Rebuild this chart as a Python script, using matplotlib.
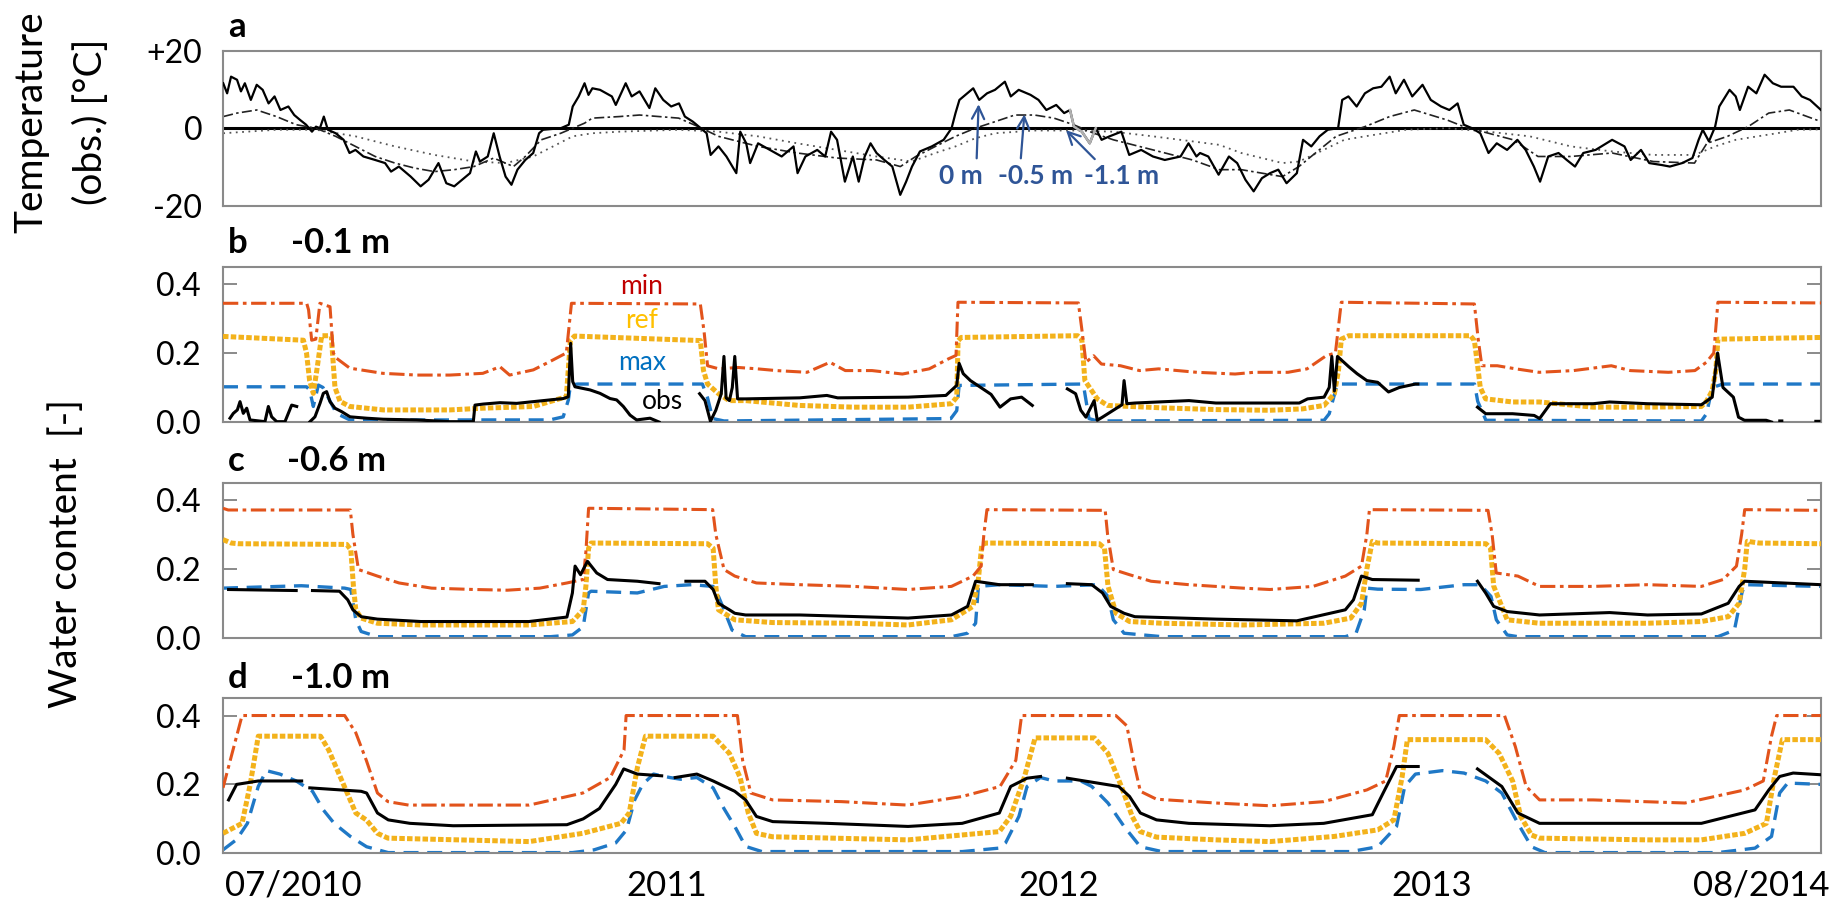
import numpy as np
import matplotlib
matplotlib.use("Agg")
import matplotlib.pyplot as plt

plt.rcParams['font.family'] = ['Lato', 'DejaVu Sans']
nan = np.nan

# ---------------- x axis (days along the record) ----------------
x_max = 1550
tick_days = [68.4, 430.8, 811, 1172, 1492]
tick_labels = ['07/2010', '2011', '2012', '2013', '08/2014']

# ---------------- panel a: temperature ----------------
a0_day = [0.2, 4, 7.8, 13.6, 17.4, 21.2, 27, 32.7, 38.5, 44.2, 50, 55.7, 63.4, 69.1, 74.9, 80.6, 86.3, 90.2, 94, 97.8,
          101.7, 109.3, 117, 122.7, 128.5, 136.2, 147.6, 157.2, 163, 170.6, 182.1, 191.7, 199.4, 209, 216.6, 224.3, 233.8,
          239.6, 245.3, 249.2, 256.8, 262.6, 268.3, 274.1, 279.8, 285.6, 293.2, 300.9, 306.6, 310.5, 327.7, 335.4, 339.2,
          345, 350.7, 354.5, 358.3, 365.7, 377.2, 381, 390.6, 396.4, 404, 413.6, 419.3, 427, 434.7, 442.3, 448, 455.7,
          463.4, 469.1, 473, 480.6, 488.3, 497.9, 501.7, 507.5, 511.3, 519, 530.4, 541.9, 553.4, 557.3, 564.9, 576.4,
          584.1, 589.8, 595.6, 603.2, 610.9, 616.6, 622.4, 628.1, 633.9, 641.5, 649.2, 656.9, 662.6, 668.3, 676, 687.5,
          699, 706.7, 710.5, 714.3, 720.1, 727.7, 733.5, 741.1, 748.8, 758.4, 764.1, 771.8, 783.3, 791, 798.6, 808.2,
          815.9, 821.6, 825.4, 833.1, 840.7, 846.5, 852.2, 859.9, 871.4, 879, 890.6, 902, 913.5, 928.8, 936.5, 944.2,
          947.7, 955.7, 965.7, 975.7, 983.7, 991.7, 999.7, 1007.7, 1015.6, 1023.6, 1031.6, 1041.6, 1047.6, 1055.6,
          1063.6, 1071.6, 1081.6, 1085.6, 1091.6, 1099.6, 1107.6, 1115.6, 1123.6, 1131.6, 1137.5, 1145.5, 1153.5,
          1163.5, 1171.5, 1181.5, 1189.5, 1197.5, 1203.5, 1211.5, 1219.5, 1227.5, 1235.5, 1245.5, 1255.5, 1263.5,
          1271.5, 1277.5, 1285.4, 1295.4, 1303.4, 1311.4, 1319.4, 1331.4, 1347.4, 1359.4, 1365.4, 1375.4, 1383.4,
          1395.4, 1403.4, 1415.4, 1425.3, 1431.3, 1435.3, 1441.3, 1447.3, 1451.3, 1461.3, 1467.3, 1471.3, 1479.3,
          1487.3, 1495.3, 1503.3, 1511.3, 1523.3, 1531.3, 1539.3, 1550]
a0_temp = [11.6, 9.0, 13.3, 12.5, 9.5, 11.6, 7.3, 11.2, 9.9, 6.4, 8.2, 4.7, 5.6, 3.4, 2.1, 0.9, -0.9, 0.4, 0, 3.0,
           -0.4, -1.3, -3.0, -6.4, -5.6, -7.3, -8.2, -9.0, -11.2, -9.9, -12.5, -15.0, -13.3, -9.0, -14.2, -15.0, -12.9,
           -11.6, -6.0, -8.6, -7.3, -1.3, -7.3, -12.5, -14.6, -10.7, -8.2, -6.4, -1.3, -0.4, 0, 0.9, 5.6,
           8.2, 11.6, 8.6, 10.3, 9.9, 8.2, 6.0, 11.6, 8.2, 9.5, 5.2, 10.3, 7.3, 5.6, 6.4, 3.0, 1.7,
           0, -1.3, -6.9, -4.7, -7.3, -11.6, -0.9, -3.9, -9.0, -3.9, -5.6, -7.3, -4.7, -11.6, -7.3, -5.6,
           -7.3, -0.9, -3.0, -13.8, -7.3, -13.8, -7.3, -3.9, -6.4, -8.2, -9.9, -17.2, -13.8, -9.9, -6.0, -4.7,
           -3.0, 0, 3.9, 7.3, 8.6, 10.3, 7.3, 9.0, 9.9, 12.0, 8.2, 9.9, 8.6, 7.3, 4.7, 6.0,
           3.9, 4.7, 0.4, -0.9, -3.9, 0, -3.0, -2.1, -0.9, -6.9, -5.6, -7.3, -8.2, -7.3, -3.9, -7.3,
           -6.4, -7.3, -12.0, -7.3, -9.0, -13.3, -16.3, -12.9, -11.6, -10.7, -14.2, -11.6, -3.0, -4.7,
           -2.1, -0.4, 0, 7.3, 8.2, 5.6, 9.0, 10.3, 10.7, 13.3, 9.0, 12.5, 8.2,
           11.2, 7.3, 5.6, 4.7, 6.4, 0.9, 0, -1.3, -6.4, -3.9, -5.6, -3.0, -5.6,
           -9.9, -13.8, -7.3, -6.4, -8.2, -9.9, -6.4, -5.6, -3.0, -4.7, -8.2, -5.6, -9.0,
           -9.5, -9.9, -9.0, -7.7, -3.0, -0.4, -3.4, 0.4, 5.6, 9.9, 8.2, 4.7, 10.7,
           9.0, 13.8, 11.6, 10.7, 10.7, 8.2, 7.3, 4.7]

a05_day = [0.2, 13.6, 32.7, 51.9, 71, 90.2, 109.3, 128.5, 147.6, 166.8, 186, 205.1, 224.3, 243.4, 262.6, 281.7, 293.2,
           308.6, 327.7, 350.7, 358.3, 384.4, 404, 442, 461, 480.6, 519, 557, 595.6, 634, 657, 672, 691, 710.5, 729.6,
           749, 768, 787, 806, 825, 844.6, 863.7, 902, 940.4, 966.4, 987.7, 1027.6, 1043.6, 1059.6, 1079.6, 1107.6,
           1131.6, 1155.5, 1171.5, 1187.5, 1203.5, 1227.5, 1251.5, 1275.5, 1307.4, 1347.4, 1387.4, 1427.3, 1439.3,
           1459.3, 1479.3, 1499.3, 1519.3, 1550]
a05_temp = [3.0, 3.9, 4.7, 3.0, 0.9, 0, -2.1, -4.7, -7.3, -9.0, -10.3, -11.2, -10.7, -9.9, -7.7, -9.9, -7.3,
            -3.0, -1.3, 1.3, 2.6, 3.0, 3.4, 2.6, 0.4, -2.1, -4.7, -6.4, -7.7, -8.2, -9.9, -7.3, -4.7, -2.1, 0,
            1.7, 3.4, 3.4, 2.6, 0.9, -1.3, -3.0, -5.6, -8.2, -10.7, -10.7, -12.5, -9.9, -6.4, -2.1, 0.4,
            3.0, 4.7, 3.4, 2.1, 0.4, -1.3, -3.0, -7.3, -7.3, -6.4, -8.6, -9.0, -3.9,
            -2.1, 0.4, 3.9, 4.7, 1.7]

a11_day = [0.2, 51.9, 90.2, 128.5, 166.8, 205.1, 243.4, 274.1, 300.9, 320.1, 339.2, 358.3, 384.4, 442, 480.6, 519,
           557, 595.6, 634, 668, 691, 710.5, 729.6, 749, 787, 825, 863.7, 902, 940.4, 966.4, 987.7, 1027.6, 1043.6,
           1067.6, 1087.6, 1107.6, 1147.5, 1187.5, 1227.5, 1267.5, 1307.4, 1347.4, 1387.4, 1427.3, 1447.3, 1467.3,
           1507.3, 1527.3, 1550]
a11_temp = [-1.3, -0.4, -0.4, -2.1, -4.7, -6.9, -8.6, -9.0, -7.3, -4.7, -2.1, -1.3, -0.9, -0.4, -0.9, -2.1,
            -3.9, -5.6, -7.3, -8.6, -6.4, -4.7, -2.6, -1.3, -0.6, -0.6, -0.9, -2.1, -3.4, -4.3, -6.4, -9.0, -8.6,
            -5.6, -3.0, -2.1, -0.4, 0, -0.9, -2.1, -4.7, -6.0, -6.9, -6.9, -4.7, -3.0,
            -1.3, -0.4, -0.3]

# ---------------- panel b: -0.1 m ----------------
b_min_day = [0, 81.2, 83, 86, 90, 94, 103.8, 107, 110, 123, 155, 188, 220, 252, 268.7, 278, 301, 317, 333, 338,
             463, 466.7, 470, 481, 499.8, 518.3, 536.8, 566.5, 588.7, 603.6, 629.5, 659,
             685, 703.7, 711, 712.9, 829.7, 833.4, 837, 844.5, 852, 870.5, 889, 907.5, 944.6, 981.7, 1000, 1033,
             1051.5, 1070, 1079, 1084.7, 1213.8, 1217.5, 1221, 1236, 1254, 1276.5, 1310, 1346.6, 1365, 1402, 1427.7,
             1438.8, 1446, 1450, 1550]
b_min = [0.344, 0.344, 0.325, 0.237, 0.24, 0.344, 0.334, 0.2, 0.185, 0.156, 0.141, 0.136, 0.136, 0.141, 0.16, 0.136,
         0.151, 0.175, 0.2, 0.344,
         0.342, 0.26, 0.163, 0.154, 0.158, 0.154, 0.149, 0.144, 0.173, 0.149, 0.149,
         0.139, 0.154, 0.183, 0.193, 0.347, 0.345, 0.26, 0.173, 0.192, 0.168, 0.163, 0.149, 0.154, 0.144, 0.139,
         0.144, 0.144, 0.154, 0.192, 0.2, 0.347, 0.342, 0.24, 0.163, 0.163, 0.154, 0.144, 0.149, 0.163, 0.149,
         0.144, 0.149, 0.173, 0.2, 0.347, 0.345]

b_ref_day = [0, 78, 81, 84, 87.6, 91, 95.7, 105, 108.6, 113.5, 123, 155.5, 220, 252, 301, 317, 333, 337, 341,
             463, 466, 470,
             480.6, 491, 507, 559, 612, 664.5, 706.5, 711.7, 713, 716, 829, 833, 836, 848, 858, 911, 963, 1015,
             1047, 1068, 1078, 1082, 1084.7, 1092, 1210, 1213.8, 1217.5, 1219.5, 1224.7, 1251, 1277, 1329, 1381.7,
             1434, 1439, 1444.5, 1448, 1450, 1550]
b_ref = [0.248, 0.237, 0.2, 0.12, 0.083, 0.15, 0.25, 0.25, 0.1, 0.06, 0.045, 0.035, 0.035, 0.04, 0.045, 0.059, 0.073,
         0.237, 0.249, 0.236, 0.15, 0.11,
         0.082, 0.062, 0.062, 0.048, 0.043, 0.043, 0.053, 0.072, 0.235, 0.245,
         0.25, 0.24, 0.12, 0.067, 0.048, 0.041, 0.036, 0.034, 0.038, 0.048, 0.082, 0.15, 0.24, 0.25, 0.25, 0.236,
         0.15, 0.1, 0.067, 0.058, 0.058, 0.043, 0.043, 0.045, 0.06, 0.091, 0.15, 0.24, 0.245]

b_max_day = [0, 81, 84, 87.6, 92.5, 97, 110, 123, 317, 330, 335, 337, 344, 465, 470, 475, 486, 706, 711.7, 714,
             833, 835, 840, 848, 1068, 1073, 1080.8, 1214, 1217, 1225, 1434, 1439, 1444.5, 1455, 1550]
b_max = [0.102, 0.102, 0.093, 0.045, 0.107, 0.1, 0.025, 0.006, 0.006, 0.015, 0.064, 0.107, 0.11, 0.11, 0.07, 0.01,
         0.003, 0.01, 0.033, 0.106, 0.11, 0.1, 0.01, 0.003, 0.005, 0.024, 0.11, 0.11, 0.06, 0.005, 0.003, 0.024, 0.1,
         0.11, 0.11]

b_obs_day = [6.8, 10, 13.9, 16.5, 19.7, 23, 26.2, 40.7, 44, 47.2, 52.1, 60.1, 63.4, 66.6, 71.5, 78, 84.4, 89.2,
             94.1, 97.3, 100.5, 103.8, 108.6, 115.1, 123.2, 139.3, 155.5, 187.8, 220.2, 242.8, 244.4, 252.5, 268.7,
             284.8, 301, 317.2, 330.1, 334.9, 337.2, 339.2, 341.4, 349.5, 356, 365.7, 375.4, 381.8, 388.3, 394.8,
             401.2, 414.2, 422.9, 440, 462.3, 467.5, 472.8, 478, 483.3, 485.9, 488, 491.2, 494, 496.4,
             499.1, 506.9, 559.4, 585.7, 596.2, 664.5, 701.2, 711.7, 714, 718, 725, 735, 745, 753.7, 764, 774.6, 785,
             800, 819, 827, 832, 837, 845, 848, 853, 872, 874, 876.7, 884.5, 937, 963, 1015, 1044, 1052, 1068, 1073,
             1075.5, 1078, 1081, 1092, 1100, 1109.5, 1120, 1130.5, 1141, 1156.6, 1159, 1190, 1216.8, 1224.8, 1250.9,
             1271.8, 1277, 1287.5, 1329, 1345, 1381.7, 1434, 1444.5, 1449.7, 1454.9, 1465, 1470, 1475.8, 1496.8, 1502,
             1506, 1510, 1512, 1530, 1545, 1548]
b_obs = [0.011, 0.025, 0.035, 0.059, 0.025, 0.04, 0.006, 0.001, 0.045, 0.015, 0.001, 0.001, 0.025, 0.049, 0.045, nan,
         0.001, 0.015, 0.054, 0.083, 0.088, 0.059, 0.04, 0.03, 0.015, 0.011, 0.008, 0.006, 0.001, 0.001, 0.049, 0.052,
         0.056, 0.054, 0.059, 0.064, 0.068, 0.073, 0.228, 0.117, 0.102, 0.097, 0.093, 0.083, 0.068, 0.064, 0.045,
         0.02, 0.006, 0.011, 0.0, nan, 0.082, 0.062, 0.002, 0.034, 0.082, 0.19, 0.07, 0.062, 0.1, 0.19,
         0.067, 0.067, 0.07, 0.077, 0.07, 0.072, 0.077, 0.106, 0.17, 0.14, 0.12, 0.1, 0.08, 0.043, 0.067,
         0.072, 0.048, nan, 0.096, 0.082, 0.034, 0.014, 0.062, 0.005, 0.014, 0.05, 0.12, 0.053, 0.055, 0.062, 0.055,
         0.055, 0.055, 0.067, 0.072, 0.1, 0.19, 0.09, 0.19, 0.16, 0.14, 0.12, 0.115, 0.087, 0.1, 0.11, 0.11, nan,
         0.043, 0.024, 0.024, 0.019, 0.01, 0.053, 0.053, 0.058, 0.053, 0.05, 0.072, 0.2, 0.1, 0.072, 0.014, 0.005,
         0.005, 0.0, nan, 0.003, 0.003, nan, 0.002, 0.002]

# ---------------- panel c: -0.6 m ----------------
c_min_day = [0, 5, 123.5, 126, 131.4, 149.8, 170.8, 202.3, 244.3, 275.8, 307.3, 333.6, 349.4, 352, 354.6, 475, 478,
             486, 496.4, 517.4, 559.4, 612, 664.5, 706.5, 727.5, 735.4, 738, 741, 855.7, 858, 863.6, 879.3, 900.2,
             936.9, 989.2, 1015.4, 1057.2, 1088.6, 1104.3, 1109.5, 1112, 1227, 1231, 1235, 1256, 1277, 1329, 1381.7,
             1434, 1455, 1468, 1473, 1476, 1550]
c_min = [0.376, 0.371, 0.371, 0.3, 0.198, 0.179, 0.159, 0.144, 0.14, 0.138, 0.144, 0.159, 0.169, 0.25, 0.376, 0.372,
         0.3, 0.198, 0.179, 0.159, 0.154, 0.149, 0.14, 0.149, 0.179, 0.208, 0.3, 0.372, 0.37, 0.3, 0.198, 0.183,
         0.164, 0.154, 0.144, 0.14, 0.149, 0.179, 0.208, 0.3, 0.372, 0.37, 0.3, 0.188, 0.179, 0.149, 0.149, 0.154,
         0.149, 0.169, 0.208, 0.3, 0.372, 0.37]

c_ref_day = [0, 8, 15, 120, 124, 126.5, 128.8, 134, 149.8, 191.8, 296.8, 338.9, 349.4, 352, 354.6, 357, 470, 475.4,
             478, 480.6, 496.4, 533, 612, 664.5, 706.5, 727.5, 732.7, 736, 740, 850, 855, 858.4, 866.2, 879.3, 910.7,
             989.2, 1067.7, 1093.9, 1104.3, 1109.5, 1114.8, 1120, 1225, 1229.5, 1232.5, 1245.6, 1277, 1381.7, 1434,
             1460, 1470.6, 1476, 1478.5, 1490, 1550]
c_ref = [0.285, 0.275, 0.273, 0.271, 0.255, 0.15, 0.081, 0.057, 0.042, 0.037, 0.037, 0.047, 0.081, 0.15, 0.26,
         0.275, 0.273, 0.26, 0.15, 0.081, 0.052, 0.044, 0.042, 0.037, 0.052, 0.091, 0.17, 0.27, 0.275, 0.273, 0.26,
         0.15, 0.071, 0.047, 0.042, 0.037, 0.042, 0.057, 0.1, 0.2, 0.28, 0.275, 0.273, 0.26, 0.15, 0.052, 0.042,
         0.042, 0.047, 0.061, 0.1, 0.2, 0.28, 0.275, 0.273]

c_max_day = [0, 76, 118, 124, 128.8, 134, 149.8, 317.8, 338.9, 349.4, 354.6, 357, 401.9, 428, 454.4, 475.4, 480.6,
             486, 493.8, 506.9, 706.5, 722.2, 730, 732.7, 753, 806, 848, 858.4, 863.6, 874, 910.7, 1088.6, 1099, 1107,
             1109.5, 1120, 1161.8, 1203.7, 1219.4, 1229.9, 1235.1, 1245.6, 1256, 1450, 1466, 1473.3, 1476, 1550]
c_max = [0.144, 0.151, 0.144, 0.14, 0.052, 0.018, 0.003, 0.003, 0.008, 0.032, 0.13, 0.135, 0.13, 0.149, 0.154, 0.149,
         0.12, 0.081, 0.022, 0.003, 0.003, 0.013, 0.042, 0.149, 0.154, 0.149, 0.154, 0.12, 0.052, 0.013, 0.003,
         0.003, 0.013, 0.081, 0.144, 0.141, 0.14, 0.154, 0.154, 0.12, 0.052, 0.008, 0.003, 0.003, 0.022, 0.13,
         0.154, 0.149]

c_obs_day = [5.4, 71, 78, 86.8, 113, 121, 126, 134, 149.8, 191.8, 296.8, 333.6, 338.9, 341.5, 346.8, 353.5, 362.5,
             373, 401.9, 422.9, 435, 449, 467.5, 475.4, 480.6, 491.2, 496.4, 506.9, 559.4, 664.5, 706.5, 722.2, 730,
             753, 785, 800, 819, 842.7, 853.1, 861, 874, 884.5, 963, 1041.5, 1088.6, 1096.5, 1104.3, 1114.8, 1159.3,
             1190, 1216.8, 1224.7, 1232.5, 1245.6, 1277, 1345, 1381.7, 1434, 1460, 1470.6, 1476, 1550]
c_obs = [0.14, 0.137, nan, 0.137, 0.135, 0.11, 0.081, 0.061, 0.054, 0.047, 0.047, 0.06, 0.13, 0.208, 0.183, 0.222,
         0.188, 0.169, 0.164, 0.157, nan, 0.164, 0.164, 0.14, 0.1, 0.081, 0.071, 0.066, 0.066, 0.057, 0.066, 0.091,
         0.164, 0.154, 0.154, nan, 0.157, 0.154, 0.13, 0.091, 0.071, 0.061, 0.054, 0.049, 0.081, 0.11, 0.179, 0.169,
         0.167, nan, 0.164, 0.13, 0.091, 0.076, 0.066, 0.073, 0.066, 0.069, 0.1, 0.149, 0.164, 0.154]

# ---------------- panel d: -1.0 m ----------------
d_min_day = [0, 18.5, 118, 128.8, 139, 149.8, 160, 180, 244, 297, 349, 375.6, 389, 391, 499, 504, 512, 533, 600, 664,
             717, 753.7, 769, 774.6, 866, 876.7, 884.5, 889.8, 905.5, 963, 1015.4, 1067.7, 1109.5, 1127.8, 1135.7,
             1141, 1243, 1253.5, 1264, 1277, 1329, 1418, 1476, 1494, 1502, 1507, 1550]
d_min = [0.19, 0.40, 0.40, 0.35, 0.27, 0.175, 0.15, 0.14, 0.14, 0.14, 0.175, 0.22, 0.3, 0.40, 0.40, 0.27, 0.175,
         0.155, 0.15, 0.14, 0.165, 0.194, 0.27, 0.40, 0.40, 0.37, 0.25, 0.18, 0.157, 0.146, 0.138, 0.15, 0.184,
         0.21, 0.31, 0.40, 0.40, 0.31, 0.194, 0.155, 0.155, 0.146, 0.184, 0.21, 0.34, 0.40, 0.40]

d_ref_day = [0, 18.5, 26.4, 34.2, 94.6, 102.5, 118.3, 128.8, 139, 149.8, 160, 297, 349, 386, 394, 402, 409.8, 475.4,
             491.2, 501.6, 509.5, 517.4, 533, 664.5, 753, 764, 777.2, 787.7, 845.3, 858.4, 871.4, 881.9, 889.8, 905.5,
             963, 1015.4, 1078, 1120, 1135.7, 1143.6, 1148.8, 1224.7, 1237.8, 1250.9, 1258.7, 1269.2, 1277, 1381.7,
             1434, 1476, 1497, 1504.7, 1512.5, 1550]
d_ref = [0.058, 0.087, 0.2, 0.34, 0.34, 0.30, 0.19, 0.117, 0.097, 0.058, 0.044, 0.034, 0.058, 0.087, 0.117, 0.25,
         0.34, 0.34, 0.29, 0.22, 0.117, 0.058, 0.048, 0.039, 0.063, 0.107, 0.22, 0.335, 0.335, 0.29, 0.194, 0.107,
         0.063, 0.047, 0.039, 0.034, 0.049, 0.068, 0.097, 0.22, 0.33, 0.33, 0.29, 0.21, 0.107, 0.053, 0.044, 0.039,
         0.039, 0.058, 0.087, 0.22, 0.33, 0.33]

d_max_day = [0, 13.2, 23.7, 34.2, 42, 55.2, 71, 86.8, 97.3, 107.8, 123.5, 139.3, 160.3, 338.9, 359.9, 380.9, 391.4,
             399.3, 407.1, 417.6, 433.4, 443.9, 459.6, 475.4, 485.9, 496.4, 506.9, 522.7, 717, 752.7, 759, 772, 779.9,
             792.9, 806, 832, 842.7, 858.4, 874, 889.8, 910.7, 1093.9, 1120, 1138.3, 1146.2, 1156.6, 1182.8, 1203.7,
             1224.7, 1240.4, 1256, 1269.2, 1282.2, 1449.7, 1486, 1502, 1509.9, 1517.7, 1550]
d_max = [0.01, 0.04, 0.087, 0.194, 0.24, 0.23, 0.21, 0.18, 0.126, 0.087, 0.049, 0.019, 0.002, 0.002, 0.01, 0.03,
         0.068, 0.155, 0.20, 0.23, 0.22, 0.215, 0.22, 0.19, 0.13, 0.078, 0.02, 0.005, 0.005, 0.015, 0.03, 0.107,
         0.194, 0.22, 0.21, 0.21, 0.194, 0.146, 0.078, 0.019, 0.005, 0.005, 0.019, 0.078, 0.194, 0.23, 0.24, 0.233,
         0.21, 0.175, 0.087, 0.019, 0.002, 0.002, 0.015, 0.049, 0.175, 0.204, 0.2]

d_obs_day = [5.4, 13.2, 34.2, 76.3, 80, 84.2, 134, 139.3, 149.8, 160.3, 181.3, 223.3, 333.6, 349.4, 365.1, 380.9,
             388.7, 401.9, 425.5, 432, 438.6, 459.6, 475.4, 496.4, 506.9, 517.4, 533.2, 585.7, 664.5, 717, 753,
             764, 779.9, 793, 805, 819, 868.8, 879.3, 889.8, 905.5, 936.9, 1015.4, 1067.7, 1114.8, 1125.3, 1138.3,
             1159.3, 1190, 1216.8, 1240.4, 1256, 1277, 1329, 1434, 1486, 1499.4, 1509.9, 1523, 1550]
d_obs = [0.155, 0.2, 0.21, 0.21, nan, 0.19, 0.18, 0.175, 0.117, 0.097, 0.087, 0.08, 0.083, 0.1, 0.13, 0.2, 0.245,
         0.23, 0.225, nan, 0.22, 0.23, 0.21, 0.18, 0.155, 0.107, 0.092, 0.087, 0.078, 0.087, 0.117, 0.194, 0.218,
         0.223, nan, 0.218, 0.194, 0.165, 0.117, 0.097, 0.087, 0.08, 0.087, 0.112, 0.175, 0.252, 0.252, nan, 0.245,
         0.194, 0.117, 0.087, 0.087, 0.087, 0.126, 0.184, 0.223, 0.233, 0.228]

# ---------------- styles ----------------
C_MIN = '#E2531B'
C_REF = '#F3B21B'
C_MAX = '#1F78C6'
C_SPINE = '#8a8a8a'
C_ANN = '#2F5597'
TICK_FS = 23

W, H = 1847, 914
fig = plt.figure(figsize=(W / 100, H / 100), dpi=100)

def ax_at(left, top, right, bottom):
    return fig.add_axes([left / W, 1 - bottom / H, (right - left) / W, (bottom - top) / H])

L, R = 223, 1821
ax_a = ax_at(L, 50.7, R, 205.7)
ax_b = ax_at(L, 266.7, R, 422.0)
ax_c = ax_at(L, 482.8, R, 637.7)
ax_d = ax_at(L, 698.3, R, 853.3)

for ax in (ax_a, ax_b, ax_c, ax_d):
    ax.set_xlim(0, x_max)
    for s in ax.spines.values():
        s.set_color(C_SPINE)
        s.set_linewidth(1.5)
    ax.set_xticks(tick_days)
    ax.set_xticklabels(tick_labels)
    ax.tick_params(axis='x', length=0, labelbottom=False)

# panel a
ax_a.set_ylim(-20, 20)
ax_a.axhline(0, color='black', lw=2.2, zorder=1)
ax_a.plot(a11_day, a11_temp, color='#555555', lw=1.3, ls=(0, (1, 2.5)), zorder=2)
ax_a.plot(a05_day, a05_temp, color='#222222', lw=1.2, ls=(0, (6, 2, 1.5, 2)), zorder=2)
ax_a.plot(a0_day, a0_temp, color='black', lw=1.6, zorder=3)
a0d = np.array(a0_day); a0t = np.array(a0_temp)
m = (a0d >= 818) & (a0d <= 850)
ax_a.plot(a0d[m], a0t[m], color='#b0b0b0', lw=1.8, zorder=4)
ax_a.set_yticks([-20, 0, 20])
ax_a.set_yticklabels(['-20', '0', '+20'])
ax_a.tick_params(axis='y', length=0, pad=15, labelsize=TICK_FS)

ann_kw = dict(color=C_ANN, fontsize=19, fontweight='bold', ha='center', va='center')
arrow_kw = dict(arrowstyle='->', color=C_ANN, lw=1.6, mutation_scale=22)
ax_a.annotate('0 m', xy=(733, 6.9), xytext=(716, -12.3), arrowprops=dict(**arrow_kw, relpos=(0.85, 1.0)), **ann_kw)
ax_a.annotate('-0.5 m', xy=(777.5, 4.3), xytext=(788, -12.3), arrowprops=dict(**arrow_kw, relpos=(0.3, 1.0)), **ann_kw)
ax_a.annotate('-1.1 m', xy=(815.8, 0.0), xytext=(872, -12.3), arrowprops=dict(**arrow_kw, relpos=(0.2, 1.0)), **ann_kw)

# water panels
panels = [
    (ax_b, b_min_day, b_min, b_ref_day, b_ref, b_max_day, b_max, b_obs_day, b_obs),
    (ax_c, c_min_day, c_min, c_ref_day, c_ref, c_max_day, c_max, c_obs_day, c_obs),
    (ax_d, d_min_day, d_min, d_ref_day, d_ref, d_max_day, d_max, d_obs_day, d_obs),
]
for ax, mnd, mn, rfd, rf, mxd, mx, obd, ob in panels:
    ax.plot(mxd, mx, color=C_MAX, lw=2.4, ls=(0, (4.5, 2.6)), zorder=2)
    ax.plot(rfd, rf, color=C_REF, lw=3.6, ls=(0, (1.1, 0.45)), zorder=3)
    ax.plot(mnd, mn, color=C_MIN, lw=2.2, ls=(0, (5, 1.5, 1.2, 1.5)), zorder=4)
    ax.plot(obd, ob, color='black', lw=2.2, zorder=5)
    ax.set_ylim(0, 0.45)
    ax.set_yticks([0.0, 0.2, 0.4])
    ax.set_yticklabels(['0.0', '0.2', '0.4'])
    ax.tick_params(axis='y', direction='in', length=10, width=1.4, color=C_SPINE,
                   left=True, right=True, pad=16, labelsize=TICK_FS)

ax_d.tick_params(axis='x', labelbottom=True, labelsize=25, pad=12)

# labels in panel b
lab_fs = 19
ax_b.text(0.262, 0.394 / 0.45, 'min', transform=ax_b.transAxes, color='#C00000', fontsize=lab_fs, ha='center', va='center')
ax_b.text(0.262, 0.294 / 0.45, 'ref', transform=ax_b.transAxes, color='#FFC000', fontsize=lab_fs, ha='center', va='center')
ax_b.text(0.262, 0.171 / 0.45, 'max', transform=ax_b.transAxes, color='#0070C0', fontsize=lab_fs, ha='center', va='center')
ax_b.text(0.275, 0.058 / 0.45, 'obs', transform=ax_b.transAxes, color='black', fontsize=lab_fs, ha='center', va='center',
          bbox=dict(facecolor='white', edgecolor='none', pad=0.5), zorder=6)

# panel titles
def ftext(x, y, s, **kw):
    fig.text(x / W, 1 - y / H, s, **kw)

tkw = dict(fontsize=25, fontweight='bold', va='center', ha='left')
ftext(228, 27, 'a', **tkw)
ftext(228, 243, 'b', **tkw)
ftext(291, 243, '-0.1 m', **tkw)
ftext(228, 461, 'c', **tkw)
ftext(287, 461, '-0.6 m', **tkw)
ftext(228, 678, 'd', **tkw)
ftext(291, 678, '-1.0 m', **tkw)

# y labels
lkw = dict(fontsize=28, rotation=90, ha='center', va='center')
ftext(31, 122, 'Temperature', **lkw)
ftext(91, 122, '(obs.) [°C]', **lkw)
ftext(66, 553, 'Water content  [-]', **lkw)

fig.savefig('out.png', dpi=100)
